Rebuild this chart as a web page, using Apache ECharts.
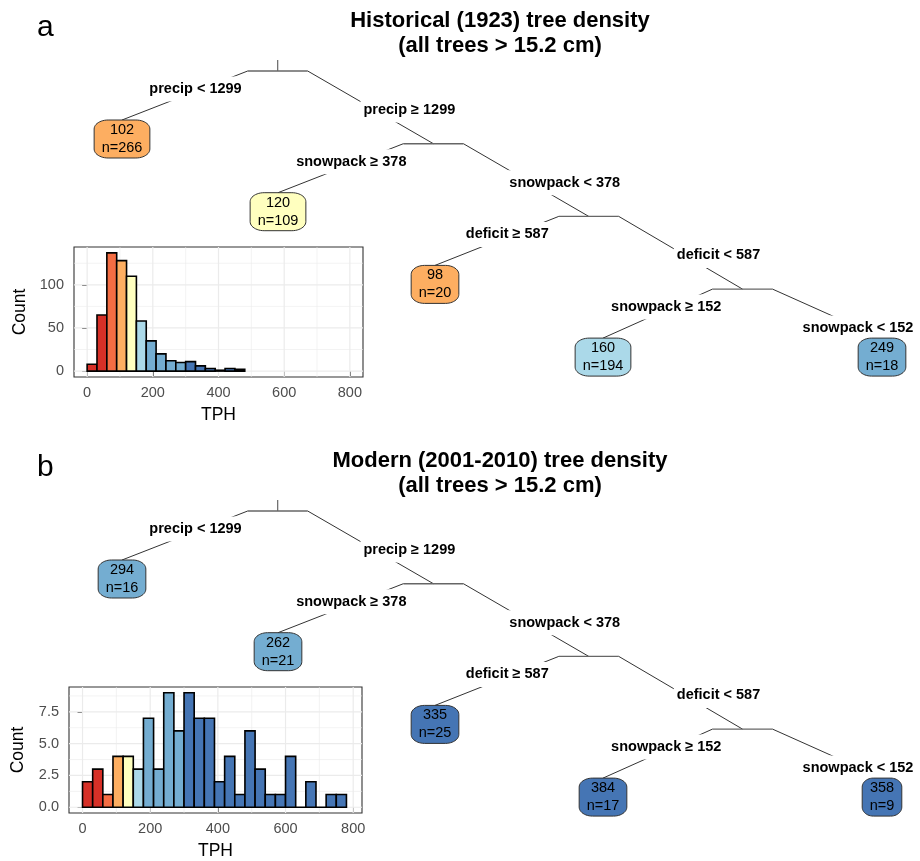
<!DOCTYPE html>
<html><head><meta charset="utf-8">
<script src="https://cdn.jsdelivr.net/npm/echarts@6/dist/echarts.min.js"></script>
<style>html,body{margin:0;padding:0;background:#fff}#c{width:920px;height:861px}</style>
</head><body><div id="c"></div><script>
// ---------------- data ----------------
const panelLetters = ['a', 'b'];
const titleLines1 = ['Historical (1923) tree density', 'Modern (2001-2010) tree density'];
const titleLine2 = '(all trees > 15.2 cm)';
const splitLeftLabels = ['precip < 1299', 'snowpack \u2265 378', 'deficit \u2265 587', 'snowpack \u2265 152'];
const splitRightLabels = ['precip \u2265 1299', 'snowpack < 378', 'deficit < 587', 'snowpack < 152'];
const leafMeanHist = [102, 120, 98, 160, 249];
const leafNHist = [266, 109, 20, 194, 18];
const leafMeanMod = [294, 262, 335, 384, 358];
const leafNMod = [16, 21, 25, 17, 9];
const binWidth = 30;
const binCountsHist = [8, 65, 137, 128, 110, 58, 35, 20, 12, 10, 11, 6, 3, 1, 3, 2];
const binCountsMod = [2, 3, 1, 4, 4, 3, 7, 3, 9, 6, 9, 7, 7, 2, 4, 1, 6, 3, 1, 1, 4, 0, 2, 0, 1, 1];
const colorBreaks = [60, 90, 120, 150, 180, 300];
const fillColors = ['#D73027', '#F46D43', '#FDAE61', '#FFFFBF', '#ABD9E9', '#74ADD1', '#4575B4'];
const xTicks = [0, 200, 400, 600, 800];
const xMinorTicks = [100, 300, 500, 700];
const yTicksHist = [0, 50, 100];
const yMinorHist = [25, 75, 125];
const yTicksMod = [0, 2.5, 5, 7.5];
const yMinorMod = [1.25, 3.75, 6.25, 8.75];

// ---------------- layout ----------------
const FONT = '"Liberation Sans", Arial, Helvetica, sans-serif';
const LAYOUT = {
  panelOffsetY: [0, 440], rootBarY: 71, levelGap: 72.7, leafDrop: 49, leafH: 38,
  barHalf: 30, rootTick: 11, leafSlotX: [122, 278, 435, 603, 882]
};

function binColor(v) { let k = 0; for (const b of colorBreaks) if (v >= b) k++; return fillColors[k]; }

// tree structure: chain of splits, left child is a leaf, right child the next split (last split has two leaves)
const splits = splitLeftLabels.map((l, i) => ({
  depth: i, leftLabel: l, rightLabel: splitRightLabels[i],
  left: { leaf: i }, right: (i < splitLeftLabels.length - 1) ? { node: i + 1 } : { leaf: i + 1 }
}));
function refX(ref) { return ref.leaf !== undefined ? LAYOUT.leafSlotX[ref.leaf] : refX(splits[ref.node].left) / 2 + refX(splits[ref.node].right) / 2; }

const measureCtx = document.createElement('canvas').getContext('2d');
function textW(t, font) { measureCtx.font = font; return measureCtx.measureText(t).width; }

function leafPolygon(cx, top, w, h) {
  const rx = Math.min(14, w * 0.28), ry = 9, pts = [];
  const x0 = cx - w / 2, x1 = cx + w / 2, y0 = top, y1 = top + h;
  const corners = [[x1 - rx, y0 + ry, -90, 0], [x1 - rx, y1 - ry, 0, 90], [x0 + rx, y1 - ry, 90, 180], [x0 + rx, y0 + ry, 180, 270]];
  corners.forEach(([ccx, ccy, a0, a1]) => {
    for (let k = 0; k <= 12; k++) {
      const a = (a0 + (a1 - a0) * k / 12) * Math.PI / 180;
      pts.push([ccx + rx * Math.cos(a), ccy + ry * Math.sin(a)]);
    }
  });
  return pts;
}

function treeRender(p) {
  return function (params, api) {
    const off = LAYOUT.panelOffsetY[p];
    const means = p === 0 ? leafMeanHist : leafMeanMod;
    const ns = p === 0 ? leafNHist : leafNMod;
    const lines = [], labels = [], leaves = [];
    const lineEl = (a, b, color, w) => ({ type: 'line', shape: { x1: a[0], y1: a[1], x2: b[0], y2: b[1] }, style: { stroke: color, lineWidth: w } });
    const textEl = (pt, txt, bold, bg) => ({
      type: 'text', x: pt[0], y: pt[1],
      style: Object.assign({ text: txt, font: (bold ? 'bold ' : '') + '14.5px ' + FONT, fill: '#000',
        align: 'center', verticalAlign: 'middle', textAlign: 'center', textVerticalAlign: 'middle' },
        bg ? { backgroundColor: '#fff', padding: [5, 3] } : {})
    });
    splits.forEach(nd => {
      const x = refX({ node: nd.depth });
      const by = off + LAYOUT.rootBarY + LAYOUT.levelGap * nd.depth;
      lines.push(lineEl(api.coord([x - LAYOUT.barHalf, by]), api.coord([x + LAYOUT.barHalf, by]), '#666', 1.4));
      if (nd.depth === 0) lines.push(lineEl(api.coord([x, by - LAYOUT.rootTick]), api.coord([x, by]), '#666', 1.2));
      [['left', -1], ['right', 1]].forEach(([side, s]) => {
        const ch = nd[side];
        const sx = x + s * LAYOUT.barHalf;
        const isLeaf = ch.leaf !== undefined;
        const tx = refX(ch), ty = by + (isLeaf ? LAYOUT.leafDrop : LAYOUT.levelGap);
        lines.push(lineEl(api.coord([sx, by]), api.coord([tx, ty]), '#333', 1));
        let lx, ly;
        if (s < 0) { ly = by + 18; lx = sx + (tx - sx) * (18 / (ty - by)) - 6; }
        else { ly = by + 39; lx = tx - 24; }
        labels.push(textEl(api.coord([lx, ly]), s < 0 ? nd.leftLabel : nd.rightLabel, true, true));
        if (isLeaf) {
          const m = means[ch.leaf], n = ns[ch.leaf];
          const t1 = String(m), t2 = 'n=' + n;
          const w = Math.max(textW(t1, '14.5px ' + FONT), textW(t2, '14.5px ' + FONT)) + 15;
          const c = api.coord([tx, ty]);
          leaves.push({ type: 'polygon', shape: { points: leafPolygon(c[0], c[1], w, LAYOUT.leafH) },
            style: { fill: binColor(m), stroke: '#333', lineWidth: 1 } });
          leaves.push(textEl([c[0], c[1] + LAYOUT.leafH / 2 - 9], t1, false, false));
          leaves.push(textEl([c[0], c[1] + LAYOUT.leafH / 2 + 9], t2, false, false));
        }
      });
    });
    return { type: 'group', children: lines.concat(labels, leaves) };
  };
}

function binsData(counts) { return counts.map((c, i) => [i * binWidth, (i + 1) * binWidth, c]); }
function barRender(params, api) {
  const x0 = api.value(0), x1 = api.value(1), c = api.value(2);
  const a = api.coord([x0, c]), b = api.coord([x1, 0]);
  return { type: 'rect', shape: { x: a[0], y: a[1], width: b[0] - a[0], height: b[1] - a[1] },
    style: { fill: binColor(x0), stroke: '#000', lineWidth: 1.6 } };
}
function gridItems(yMajor, yMinor) {
  const items = [];
  xMinorTicks.forEach(v => items.push([0, v, 0]));
  yMinor.forEach(v => items.push([1, v, 0]));
  xTicks.forEach(v => items.push([0, v, 1]));
  yMajor.forEach(v => items.push([1, v, 1]));
  return items;
}
function gridRender(items) {
  return function (params, api) {
    const it = items[params.dataIndex];
    const cs = params.coordSys;
    const w = it[2] ? 1.2 : 0.6;
    if (it[0] === 0) {
      const px = api.coord([it[1], 0])[0];
      return { type: 'line', shape: { x1: px, y1: cs.y, x2: px, y2: cs.y + cs.height }, style: { stroke: '#EBEBEB', lineWidth: w } };
    }
    const py = api.coord([0, it[1]])[1];
    return { type: 'line', shape: { x1: cs.x, y1: py, x2: cs.x + cs.width, y2: py }, style: { stroke: '#EBEBEB', lineWidth: w } };
  };
}

const histX = (gi, max) => ({
  type: 'value', gridIndex: gi, min: -40, max: max,
  axisLine: { show: false }, splitLine: { show: false },
  axisTick: { show: true, customValues: xTicks, length: 5, lineStyle: { color: '#333', width: 1 } },
  axisLabel: { customValues: xTicks, color: '#4D4D4D', fontSize: 14.5, fontFamily: FONT, margin: 8 },
  name: 'TPH', nameLocation: 'middle', nameGap: 29,
  nameTextStyle: { color: '#000', fontSize: 17.5, fontFamily: FONT }
});
const histY = (gi, min, max, ticks, gap, fmt) => ({
  type: 'value', gridIndex: gi, min: min, max: max,
  axisLine: { show: false }, splitLine: { show: false },
  axisTick: { show: true, customValues: ticks, length: 5, lineStyle: { color: '#333', width: 1 } },
  axisLabel: { customValues: ticks, color: '#4D4D4D', fontSize: 14.5, fontFamily: FONT, margin: 10, formatter: fmt },
  name: 'Count', nameLocation: 'middle', nameGap: gap,
  nameTextStyle: { color: '#000', fontSize: 17.5, fontFamily: FONT }
});

const gridA = gridItems(yTicksHist, yMinorHist);
const gridB = gridItems(yTicksMod, yMinorMod);

const titleEls = [];
[0, 1].forEach(p => {
  const off = LAYOUT.panelOffsetY[p];
  titleEls.push({ type: 'text', x: 37, y: off + 27.5, style: { text: panelLetters[p], font: '30px ' + FONT, fill: '#000', align: 'left', verticalAlign: 'middle', textAlign: 'left', textVerticalAlign: 'middle' } });
  titleEls.push({ type: 'text', x: 500, y: off + 21, style: { text: titleLines1[p], font: 'bold 22px ' + FONT, fill: '#000', align: 'center', verticalAlign: 'middle', textAlign: 'center', textVerticalAlign: 'middle' } });
  titleEls.push({ type: 'text', x: 500, y: off + 46, style: { text: titleLine2, font: 'bold 22px ' + FONT, fill: '#000', align: 'center', verticalAlign: 'middle', textAlign: 'center', textVerticalAlign: 'middle' } });
});

const chart = echarts.init(document.getElementById('c'), null, { renderer: 'canvas', width: 920, height: 861 });
chart.setOption({
  animation: false,
  backgroundColor: '#fff',
  graphic: titleEls,
  grid: [
    { left: 0, top: 0, width: 920, height: 861, show: false },
    { left: 74, top: 247, width: 289, height: 130, show: true, backgroundColor: '#fff', borderColor: '#333', borderWidth: 1.1 },
    { left: 69, top: 687, width: 293, height: 129, show: true, backgroundColor: '#fff', borderColor: '#333', borderWidth: 1.1 }
  ],
  xAxis: [
    { type: 'value', gridIndex: 0, min: 0, max: 920, show: false },
    histX(1, 840),
    histX(2, 826)
  ],
  yAxis: [
    { type: 'value', gridIndex: 0, min: 0, max: 861, inverse: true, show: false },
    histY(1, -6.85, 143.85, yTicksHist, 45, v => String(v)),
    histY(2, -0.45, 9.45, yTicksMod, 42, v => v.toFixed(1))
  ],
  series: [
    { type: 'custom', xAxisIndex: 1, yAxisIndex: 1, silent: true, z: 1, data: gridA.map((_, i) => [i]), renderItem: gridRender(gridA) },
    { type: 'custom', xAxisIndex: 2, yAxisIndex: 2, silent: true, z: 1, data: gridB.map((_, i) => [i]), renderItem: gridRender(gridB) },
    { type: 'custom', xAxisIndex: 1, yAxisIndex: 1, silent: true, z: 2, data: binsData(binCountsHist), encode: { x: [0, 1], y: 2 }, renderItem: barRender },
    { type: 'custom', xAxisIndex: 2, yAxisIndex: 2, silent: true, z: 2, data: binsData(binCountsMod), encode: { x: [0, 1], y: 2 }, renderItem: barRender },
    { type: 'custom', xAxisIndex: 0, yAxisIndex: 0, silent: true, clip: false, z: 3, data: [[0, 0]], renderItem: treeRender(0) },
    { type: 'custom', xAxisIndex: 0, yAxisIndex: 0, silent: true, clip: false, z: 3, data: [[0, 0]], renderItem: treeRender(1) }
  ]
});
</script></body></html>
